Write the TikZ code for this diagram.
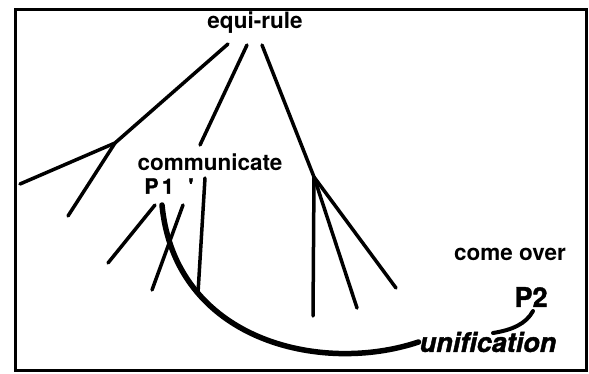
\documentclass[tikz,border=0pt]{standalone}
\usepackage{fontspec}
\setmainfont{TeX Gyre Heros}
\newfontfamily\heavyfont{TeX Gyre Heros}[BoldFeatures={FakeBold=1.5}, BoldItalicFeatures={FakeBold=1.5}]
\usetikzlibrary{positioning, calc}

\begin{document}
\begin{tikzpicture}[
      x=1pt, y=-1pt,
      every node/.style={inner sep=1pt},
      word/.style={font=\fontsize{22.5}{22.5}\selectfont\bfseries},
      plabel/.style={font=\fontsize{21}{21}\selectfont\heavyfont\bfseries},
      branch/.style={line width=3.5pt, line cap=round},
      link/.style={line width=5.5pt, line cap=round}
    ]
      \useasboundingbox (0,0) rectangle (589,374);
      \draw[line width=3pt] (15,10) rectangle (586,370);

      \node[word] (rule) at (255,23) {equi-rule};
      \node[word] (comm) at (210,162) {communicate};
      \node[plabel] (p1) at (169,186) {P\,1\hspace{0.7em}\textquotesingle};
      \node[plabel, font=\fontsize{27}{27}\selectfont\heavyfont\bfseries] (p2) at (531,297) {P2};
      \node[word] (over) at (510,254) {come over};
      \node[font=\fontsize{27}{27}\selectfont\heavyfont\bfseries\itshape] (unif) at (488,342) {unification};

      \coordinate (r1) at (228,44);
      \coordinate (r2) at (247,45);
      \coordinate (r3) at (262,45);
      \coordinate (bl) at (115,143);
      \coordinate (bl1) at (20,184);
      \coordinate (bl2) at (68,216);
      \coordinate (c2) at (200,145);
      \coordinate (br) at (314,177);
      \coordinate (br1) at (313,316);
      \coordinate (br2) at (357,308);
      \coordinate (br3) at (396,288);
      \coordinate (a1) at (155,205);
      \coordinate (a2) at (108,263);
      \coordinate (x1) at (183,205);
      \coordinate (x2) at (152,290);
      \coordinate (v1) at (205,178);
      \coordinate (v2) at (198,293);
      \coordinate (u1) at (162,205);
      \coordinate (q1) at (533,311);
      \coordinate (q2) at (493,333);

      \draw[branch] (r1) -- (bl) -- (bl1);
      \draw[branch] (bl) -- (bl2);
      \draw[branch] (r2) -- (c2);
      \draw[branch] (r3) -- (br);
      \draw[branch] (br) -- (br1);
      \draw[branch] (br) -- (br2);
      \draw[branch] (br) -- (br3);
      \draw[branch] (a1) -- (a2);
      \draw[branch] (x1) -- (x2);
      \draw[branch] (v1) -- (v2);

      \draw[link] (u1) .. controls (175,340) and (320,375) .. (unif.west);
      \draw[link, line width=4pt] (q1) .. controls (526,324) and (512,330) .. (q2);
    \end{tikzpicture}
\end{document}
